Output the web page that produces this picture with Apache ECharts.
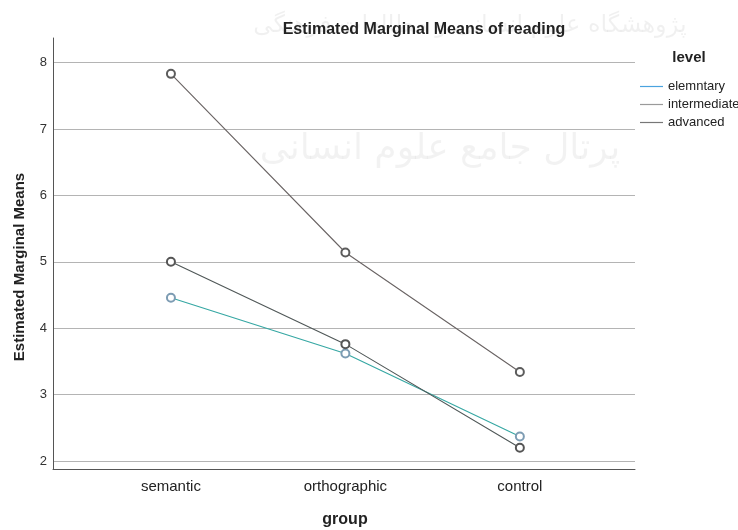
<!DOCTYPE html>
<html>
<head>
<meta charset="utf-8">
<script src="https://cdn.jsdelivr.net/npm/echarts@6/dist/echarts.min.js"></script>
<style>html,body{margin:0;padding:0;background:#fff}#c{width:738px;height:530px}</style>
</head>
<body>
<div id="c"></div>
<script>
const categories = ['semantic', 'orthographic', 'control'];
const levels = ['elemntary', 'intermediate', 'advanced'];
const elemntary = [4.46, 3.62, 2.37];
const intermediate = [5.00, 3.76, 2.20];
const advanced = [7.83, 5.14, 3.34];
const yTicks = [2, 3, 4, 5, 6, 7, 8];

const seriesValues = [elemntary, intermediate, advanced];
const lineColors = ['#35a7a3', '#4f5757', '#6a6464'];
const markerColors = ['#7d9cb3', '#555555', '#5c5c5c'];
const legendColors = ['#4aa3df', '#9a9a9a', '#777777'];
const FONT = '"Liberation Sans", Arial, sans-serif';

const chart = echarts.init(document.getElementById('c'), null, {renderer: 'canvas'});
chart.setOption({
  animation: false,
  backgroundColor: '#ffffff',
  grid: {left: 53, right: 103, top: 38, bottom: 61, containLabel: false},
  xAxis: {
    type: 'value',
    min: -0.676,
    max: 2.66,
    axisLine: {show: true, onZero: false, lineStyle: {color: '#555', width: 1}},
    axisTick: {show: false},
    splitLine: {show: false},
    axisLabel: {
      customValues: categories.map((c, i) => i),
      formatter: v => categories[Math.round(v)] || '',
      color: '#222', fontSize: 15, fontFamily: FONT, margin: 10
    }
  },
  yAxis: {
    type: 'value',
    min: 1.88,
    max: 8.37,
    axisLine: {show: true, onZero: false, lineStyle: {color: '#555', width: 1}},
    axisTick: {show: false, customValues: yTicks},
    splitLine: {show: true, lineStyle: {color: '#b4b4b4', width: 1}},
    axisLabel: {customValues: yTicks, color: '#333', fontSize: 13, fontFamily: FONT, margin: 6}
  },
  legend: {
    orient: 'vertical',
    left: 635,
    top: 75,
    itemWidth: 23,
    itemHeight: 1.2,
    itemGap: 5,
    icon: 'rect',
    itemStyle: {borderWidth: 0},
    textStyle: {fontSize: 13, fontFamily: FONT, color: '#222', overflow: 'none', width: 120},
    data: levels.map((n, i) => ({name: n, itemStyle: {color: legendColors[i], borderColor: legendColors[i], borderWidth: 0}}))
  },
  series: levels.map((n, i) => ({
    name: n,
    type: 'line',
    data: seriesValues[i].map((v, j) => [j, v]),
    symbol: 'emptyCircle',
    symbolSize: 8,
    lineStyle: {color: lineColors[i], width: 1.1},
    itemStyle: {color: markerColors[i], borderColor: markerColors[i], borderWidth: 1.1},
    z: 3 + i
  })),
  graphic: [
    {type: 'text', silent: true, z: -10, style: {text: 'پژوهشگاه علوم انسانی و مطالعات فرهنگی', x: 470, y: 26, align: 'center', verticalAlign: 'middle', font: '24px "DejaVu Sans"', fill: 'rgba(0,0,0,0.06)'}},
    {type: 'text', silent: true, z: -10, style: {text: 'پرتال جامع علوم انسانی', x: 440, y: 150, align: 'center', verticalAlign: 'middle', font: '36px "DejaVu Sans"', fill: 'rgba(0,0,0,0.05)'}},
    {type: 'text', style: {text: 'Estimated Marginal Means of reading', x: 424, y: 30, align: 'center', verticalAlign: 'middle', font: 'bold 16px "Liberation Sans", Arial, sans-serif', fill: '#222'}},
    {type: 'text', rotation: Math.PI / 2, x: 20, y: 267, style: {text: 'Estimated Marginal Means', x: 0, y: 0, align: 'center', verticalAlign: 'middle', font: 'bold 15px "Liberation Sans", Arial, sans-serif', fill: '#222'}},
    {type: 'text', style: {text: 'group', x: 345, y: 520, align: 'center', verticalAlign: 'middle', font: 'bold 16px "Liberation Sans", Arial, sans-serif', fill: '#222'}},
    {type: 'text', style: {text: 'level', x: 689, y: 58, align: 'center', verticalAlign: 'middle', font: 'bold 15px "Liberation Sans", Arial, sans-serif', fill: '#222'}}
  ]
});
</script>
</body>
</html>
